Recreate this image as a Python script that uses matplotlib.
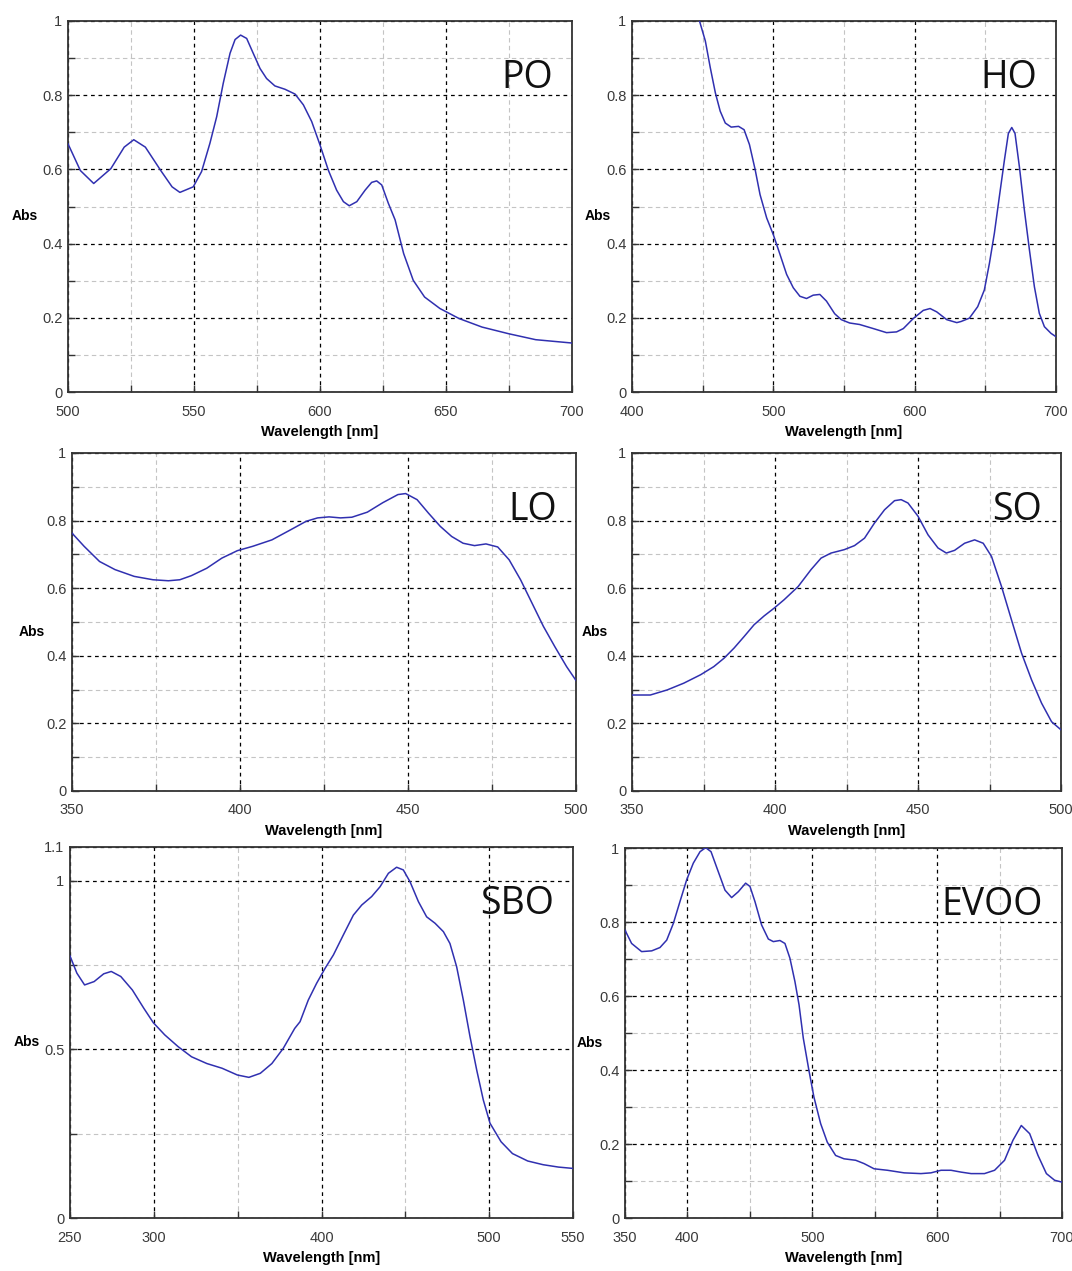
import matplotlib
matplotlib.use("Agg")
import matplotlib.pyplot as plt
from matplotlib import font_manager

# ---------------- data ----------------
po_wl = [500, 504.9, 510.2, 517, 522.3, 526.1, 530.7, 536.8, 541.3, 544.4, 549.7, 553.0, 556.3, 559.0,
         561.6, 564.3, 566.3, 568.5, 570.9, 573.5, 576.2, 578.8, 582.1, 586.1, 590.1, 593.4, 596.7,
         600.0, 603.3, 606.6, 609.3, 611.6, 614.6, 617.9, 620.5, 622.5, 624.5, 627.1, 629.8, 633.2,
         637, 641.5, 647.6, 655.2, 664.3, 674.9, 685.6, 700]
po_abs = [0.669, 0.597, 0.562, 0.602, 0.660, 0.680, 0.660, 0.597, 0.553, 0.538, 0.553, 0.594, 0.670,
          0.742, 0.832, 0.913, 0.950, 0.962, 0.953, 0.913, 0.872, 0.845, 0.825, 0.816, 0.803, 0.774,
          0.729, 0.666, 0.598, 0.544, 0.513, 0.502, 0.513, 0.544, 0.565, 0.569, 0.558, 0.509, 0.464,
          0.373, 0.301, 0.256, 0.225, 0.198, 0.175, 0.157, 0.141, 0.132]

ho_wl = [447, 451.9, 455.4, 459.0, 462.4, 466.0, 470.2, 475.4, 479.3, 483.1, 487.1, 490.6, 495.3,
         500.0, 504.7, 509.4, 514.1, 518.8, 523.5, 528.2, 532.9, 537.6, 543.4, 548.1, 554.0, 561.0,
         570.7, 580.1, 587.2, 592, 599, 606.1, 610.9, 615.6, 622.7, 629.8, 632.8, 638.7, 644.6, 649.3,
         652.9, 656.4, 659.9, 663.5, 666.3, 668.7, 671.0, 674.1, 677.6, 681.2, 684.7, 688.2, 691.8,
         696.5, 700]
ho_abs = [1.01, 0.946, 0.874, 0.806, 0.757, 0.725, 0.714, 0.716, 0.707, 0.667, 0.600, 0.532, 0.469,
          0.424, 0.371, 0.317, 0.281, 0.258, 0.252, 0.261, 0.263, 0.245, 0.211, 0.195, 0.186, 0.182,
          0.171, 0.160, 0.162, 0.171, 0.198, 0.220, 0.225, 0.216, 0.195, 0.187, 0.190, 0.199, 0.230,
          0.275, 0.347, 0.428, 0.526, 0.625, 0.697, 0.713, 0.697, 0.607, 0.491, 0.383, 0.284, 0.212,
          0.176, 0.158, 0.149]

lo_wl = [350, 353.6, 358.2, 362.8, 368.5, 374.1, 378.7, 382.1, 385.5, 390.1, 394.6, 399.2, 403.8,
         409.5, 415.1, 419.7, 423.1, 426.5, 429.9, 433.3, 437.9, 442.5, 447, 449.3, 452.7, 456.1,
         459.6, 463, 466.4, 469.8, 473.2, 476.7, 480.1, 483.5, 486.9, 490.3, 493.7, 497.2, 500]
lo_abs = [0.763, 0.724, 0.679, 0.655, 0.635, 0.625, 0.622, 0.625, 0.637, 0.659, 0.689, 0.711, 0.724,
          0.743, 0.773, 0.798, 0.808, 0.811, 0.808, 0.810, 0.825, 0.853, 0.877, 0.880, 0.862, 0.822,
          0.783, 0.753, 0.733, 0.726, 0.731, 0.722, 0.684, 0.625, 0.556, 0.487, 0.427, 0.368, 0.327]

so_wl = [350, 356.4, 362.3, 368.1, 374, 378.6, 382.2, 385.7, 389.2, 392.7, 396.2, 399.7, 403.2, 408.1,
         412.6, 416.1, 419.6, 424.2, 427.8, 431.3, 434.8, 438.3, 441.8, 444.1, 446.5, 450, 453.5, 457,
         459.9, 462.8, 466.3, 469.8, 472.8, 475.7, 479.2, 482.7, 486.2, 489.7, 493.2, 496.7, 500]
so_abs = [0.284, 0.284, 0.299, 0.319, 0.344, 0.368, 0.393, 0.423, 0.457, 0.492, 0.518, 0.541, 0.566,
          0.605, 0.655, 0.689, 0.704, 0.714, 0.726, 0.748, 0.793, 0.832, 0.859, 0.862, 0.852, 0.813,
          0.758, 0.719, 0.704, 0.712, 0.733, 0.743, 0.733, 0.694, 0.605, 0.506, 0.408, 0.329, 0.260,
          0.205, 0.181]

sbo_wl = [250, 254.1, 258.7, 264.4, 270.1, 274.6, 280.3, 287.2, 294, 299.7, 306.5, 314.5, 322.5,
          331.6, 340.7, 349.8, 356.7, 363.5, 370.4, 377.2, 384, 387.2, 392.1, 397.1, 402.1, 407.1,
          413.0, 419.0, 424.0, 429.9, 434.9, 439.9, 444.8, 448.8, 452.8, 457.8, 462.7, 467.7, 472.7,
          476.6, 480.6, 484.6, 488.6, 492.6, 496.5, 500.5, 507.1, 513.9, 523, 532.2, 541.3, 550]
sbo_abs = [0.777, 0.726, 0.691, 0.701, 0.724, 0.731, 0.716, 0.676, 0.622, 0.579, 0.543, 0.508, 0.478,
           0.458, 0.444, 0.424, 0.417, 0.429, 0.458, 0.503, 0.562, 0.582, 0.646, 0.696, 0.740, 0.780,
           0.839, 0.898, 0.928, 0.953, 0.982, 1.022, 1.040, 1.032, 0.997, 0.938, 0.893, 0.874, 0.849,
           0.814, 0.745, 0.646, 0.537, 0.438, 0.350, 0.281, 0.226, 0.191, 0.169, 0.158, 0.151, 0.147]

evoo_wl = [350, 355.3, 363.3, 371.4, 378.0, 383.4, 388.7, 394.0, 399.4, 404.7, 410.1, 414.6, 418.9,
           424.7, 430.1, 435.4, 440.8, 446.6, 450.1, 454.1, 459.4, 464.8, 468.8, 474.1, 478.1, 482.1,
           486.1, 489.4, 492.8, 497.3, 501.3, 506.7, 512, 518.7, 525.4, 534.8, 541.5, 549.5, 560.2,
           573.6, 587, 595, 603.1, 611.1, 619.2, 627.2, 637.9, 646, 654, 660.7, 667.4, 674.1, 680.8,
           687.5, 694.1, 700]
evoo_abs = [0.778, 0.742, 0.720, 0.722, 0.731, 0.751, 0.796, 0.855, 0.914, 0.959, 0.990, 1.001, 0.990,
            0.936, 0.886, 0.866, 0.882, 0.905, 0.896, 0.855, 0.792, 0.754, 0.747, 0.750, 0.742, 0.702,
            0.639, 0.576, 0.486, 0.399, 0.327, 0.255, 0.205, 0.169, 0.160, 0.156, 0.147, 0.133, 0.129,
            0.122, 0.120, 0.122, 0.129, 0.129, 0.124, 0.120, 0.120, 0.129, 0.156, 0.210, 0.250, 0.228,
            0.169, 0.120, 0.102, 0.097]

names = ["PO", "HO", "LO", "SO", "SBO", "EVOO"]

# tick labels / grid positions
po_xticks = [500, 550, 600, 650, 700];  po_xminor = [525, 575, 625, 675]
ho_xticks = [400, 500, 600, 700];       ho_xminor = [450, 550, 650]
lo_xticks = [350, 400, 450, 500];       lo_xminor = [375, 425, 475]
so_xticks = [350, 400, 450, 500];       so_xminor = [375, 425, 475]
sbo_xticks = [250, 300, 400, 500, 550]; sbo_xminor = [350, 450]
evoo_xticks = [350, 400, 500, 600, 700]; evoo_xminor = [450, 550, 650]

y_ticks = [0, 0.2, 0.4, 0.6, 0.8, 1]
y_ticklabels = ["0", "0.2", "0.4", "0.6", "0.8", "1"]
y_minor = [0.1, 0.3, 0.5, 0.7, 0.9]
sbo_yticks = [0, 0.5, 1, 1.1]
sbo_yticklabels = ["0", "0.5", "1", "1.1"]
sbo_yminor = [0.25, 0.75]

# ---------------- layout ----------------
W, H = 1072, 1271
fig = plt.figure(figsize=(W / 100, H / 100), dpi=100)

def rect(l, r, t, b):
    return [l / W, (H - b) / H, (r - l) / W, (b - t) / H]

panels = [
    dict(x=po_wl, y=po_abs, xt=po_xticks, xm=po_xminor, yt=y_ticks, yl=y_ticklabels, ym=y_minor,
         ylim=(0, 1), r=rect(68, 572, 21, 392), absoff=30),
    dict(x=ho_wl, y=ho_abs, xt=ho_xticks, xm=ho_xminor, yt=y_ticks, yl=y_ticklabels, ym=y_minor,
         ylim=(0, 1), r=rect(632, 1056, 21, 392), absoff=21),
    dict(x=lo_wl, y=lo_abs, xt=lo_xticks, xm=lo_xminor, yt=y_ticks, yl=y_ticklabels, ym=y_minor,
         ylim=(0, 1), r=rect(72, 576, 453, 791), absoff=27),
    dict(x=so_wl, y=so_abs, xt=so_xticks, xm=so_xminor, yt=y_ticks, yl=y_ticklabels, ym=y_minor,
         ylim=(0, 1), r=rect(632, 1061, 453, 791), absoff=24),
    dict(x=sbo_wl, y=sbo_abs, xt=sbo_xticks, xm=sbo_xminor, yt=sbo_yticks, yl=sbo_yticklabels,
         ym=sbo_yminor, ylim=(0, 1.1), r=rect(70, 573, 847, 1218), absoff=30),
    dict(x=evoo_wl, y=evoo_abs, xt=evoo_xticks, xm=evoo_xminor, yt=y_ticks, yl=y_ticklabels,
         ym=y_minor, ylim=(0, 1), r=rect(625, 1062, 848, 1218), absoff=22),
]

tick_font = ["Liberation Sans Narrow", "Liberation Sans", "DejaVu Sans"]
avail = {f.name for f in font_manager.fontManager.ttflist}
tick_font = [f for f in tick_font if f in avail] or ["DejaVu Sans"]

for name, p in zip(names, panels):
    ax = fig.add_axes(p["r"])
    ax.plot(p["x"], p["y"], color="#3030b0", lw=1.1, zorder=3, solid_joinstyle="round")
    ax.set_xlim(p["xt"][0], p["xt"][-1])
    ax.set_ylim(*p["ylim"])
    ax.set_xticks(p["xt"])
    ax.set_xticklabels([str(v) for v in p["xt"]])
    ax.set_xticks(p["xm"], minor=True)
    ax.set_yticks(p["yt"])
    ax.set_yticklabels(p["yl"])
    ax.set_yticks(p["ym"], minor=True)
    ax.grid(which="major", color="black", linestyle=(0, (3, 3)), linewidth=0.9)
    ax.grid(which="minor", color="#c4c4c4", linestyle=(0, (4, 3)), linewidth=0.8)
    ax.set_axisbelow(True)
    ax.tick_params(which="both", direction="in", length=5, width=1.0, color="#333333",
                   top=False, right=False)
    ax.tick_params(which="major", labelsize=10.5, labelcolor="#3a3a3a")
    ax.tick_params(axis="x", which="major", pad=9)
    ax.tick_params(axis="y", which="major", pad=4)
    for lab in ax.get_xticklabels() + ax.get_yticklabels():
        lab.set_family(tick_font)
    for s in ax.spines.values():
        s.set_color("#333333")
        s.set_linewidth(1.3)
    ax.set_xlabel("Wavelength [nm]", fontsize=10.5, fontweight="bold", family=tick_font,
                  labelpad=5)
    ax.annotate("Abs", xy=(0, 0.5), xycoords="axes fraction",
                xytext=(-p["absoff"], -10), textcoords="offset pixels",
                ha="right", va="center", fontsize=10, fontweight="bold", family=tick_font)
    ax.annotate(name, xy=(1, 1), xycoords="axes fraction",
                xytext=(-19, -67), textcoords="offset pixels",
                ha="right", va="baseline", fontsize=27, family=["Open Sans", "DejaVu Sans"],
                color="#111111")

fig.savefig("out.png", dpi=100, facecolor="white")
